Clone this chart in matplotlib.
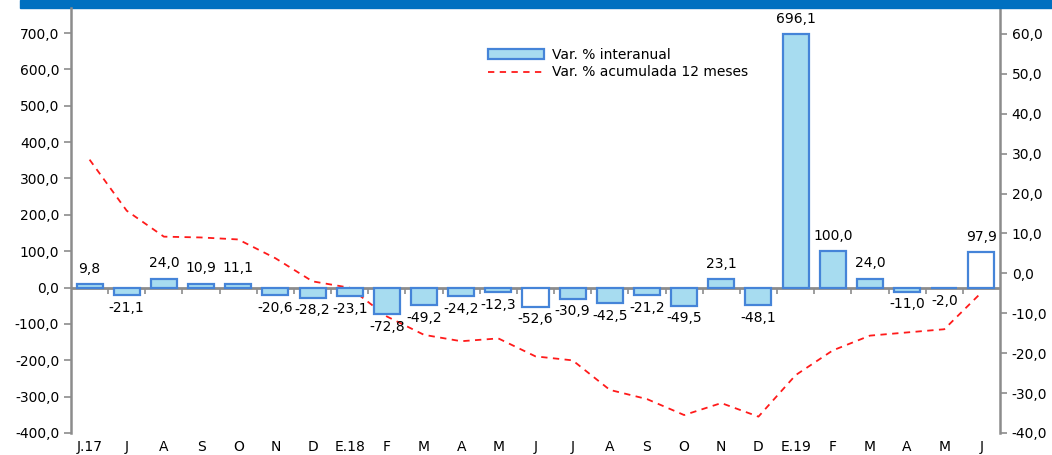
import matplotlib
matplotlib.use("Agg")
import matplotlib.pyplot as plt
import numpy as np
from matplotlib.patches import Rectangle
from matplotlib.ticker import FuncFormatter

plt.rcParams["font.family"] = ["DejaVu Sans"]
plt.rcParams["font.size"] = 10

meses = ["J.17", "J", "A", "S", "O", "N", "D", "E.18", "F", "M", "A", "M", "J",
         "J", "A", "S", "O", "N", "D", "E.19", "F", "M", "A", "M", "J"]
var_interanual = [9.8, -21.1, 24.0, 10.9, 11.1, -20.6, -28.2, -23.1, -72.8, -49.2,
                  -24.2, -12.3, -52.6, -30.9, -42.5, -21.2, -49.5, 23.1, -48.1,
                  696.1, 100.0, 24.0, -11.0, -2.0, 97.9]
var_acumulada = [28.5, 15.7, 9.2, 9.0, 8.5, 3.8, -2.0, -3.6, -10.8, -15.4, -17.0,
                 -16.3, -20.8, -21.8, -29.2, -31.5, -35.5, -32.5, -35.9, -25.5,
                 -19.3, -15.6, -14.8, -14.0, -4.8]
# barras sin relleno (blancas)
sin_relleno = [12, 24]

gris = "#8c8c8c"
azul_borde = "#4584d8"
azul_relleno = "#a7dcf0"

def coma(v, pos=None):
    return "{:.1f}".format(v).replace(".", ",")

fig = plt.figure(figsize=(10.52, 4.55), dpi=100)
ax = fig.add_axes([71 / 1052, 22 / 455, 929 / 1052, 425 / 455])
ax2 = ax.twinx()

x = np.arange(len(meses))
rellenos = ["white" if i in sin_relleno else azul_relleno for i in range(len(meses))]
barras = ax.bar(x, var_interanual, width=0.7, color=rellenos, edgecolor=azul_borde,
                linewidth=1.6, label="Var. % interanual", zorder=3)

for xi, v in zip(x, var_interanual):
    if v >= 0:
        ax.annotate(coma(v), (xi, v), xytext=(0, 6), textcoords="offset points",
                    ha="center", va="bottom")
    else:
        ax.annotate(coma(v), (xi, v), xytext=(0, -4), textcoords="offset points",
                    ha="center", va="top")

linea, = ax2.plot(x, var_acumulada, color="#ff1a1a", linestyle=(0, (3.5, 3)),
                  linewidth=1.3, label="Var. % acumulada 12 meses", zorder=4)

ax.set_xlim(-0.5, 24.5)
ax.set_ylim(-400, 768.75)
ax2.set_ylim(-40, 66.5)
ax.set_yticks(np.arange(-400, 701, 100))
ax2.set_yticks(np.arange(-40, 61, 10))
ax.yaxis.set_major_formatter(FuncFormatter(coma))
ax2.yaxis.set_major_formatter(FuncFormatter(coma))

ax.set_xticks(x)
ax.set_xticklabels(meses)
ax.tick_params(axis="x", length=0, pad=5)
ax.tick_params(axis="y", length=5, color=gris, width=1.2)
ax2.tick_params(axis="y", length=5, color=gris, width=1.2)

for a in (ax, ax2):
    a.spines["top"].set_visible(False)
    a.spines["bottom"].set_visible(False)
    a.spines["left"].set_color(gris)
    a.spines["right"].set_color(gris)
    a.spines["left"].set_linewidth(1.8)
    a.spines["right"].set_linewidth(1.8)
ax2.spines["left"].set_visible(False)
ax.spines["right"].set_visible(False)

# eje de categorias en el cero
ax.axhline(0, color=gris, linewidth=2, zorder=2)
eje0 = ax.secondary_xaxis(0, transform=ax.transData)
eje0.set_xticks(x[:-1] + 0.5)
eje0.set_xticklabels([])
eje0.tick_params(length=4, color=gris, width=1.2, direction="out")
eje0.spines["bottom"].set_visible(False)

ax.set_zorder(ax2.get_zorder() + 1)
ax.patch.set_visible(False)

fig.legend([barras, linea], ["Var. % interanual", "Var. % acumulada 12 meses"],
           loc="upper left", bbox_to_anchor=(0.452, 0.922), frameon=False,
           handlelength=4, labelspacing=0.25, handletextpad=0.6)

fig.add_artist(Rectangle((20 / 1052, 1 - 8 / 455), 1, 8 / 455,
                         transform=fig.transFigure, color="#0070c0"))

fig.savefig("out.png", dpi=100)
